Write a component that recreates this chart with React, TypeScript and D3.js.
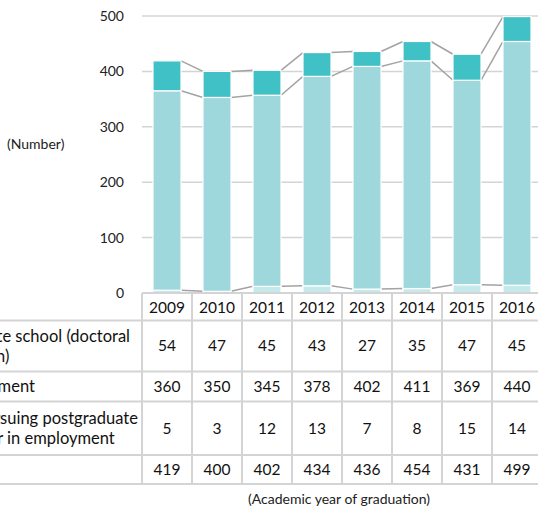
import React from "react";
import * as d3 from "d3";

const years = ["2009", "2010", "2011", "2012", "2013", "2014", "2015", "2016"];
const graduateSchool = [54, 47, 45, 43, 27, 35, 47, 45];
const employment = [360, 350, 345, 378, 402, 411, 369, 440];
const notPursuing = [5, 3, 12, 13, 7, 8, 15, 14];
const totals = [419, 400, 402, 434, 436, 454, 431, 499];
const yTicks = [0, 100, 200, 300, 400, 500];

const seriesKeys = ["notPursuing", "employment", "graduateSchool"];
const seriesColors: Record<string, string> = {
  notPursuing: "#c6e9ec",
  employment: "#9fd8dc",
  graduateSchool: "#3fc1c6",
};
const rowLabels = [
  ["Graduate school (doctoral", "research)"],
  ["Employment"],
  ["Not pursuing postgraduate", "study or in employment"],
  ["Total"],
];
const rowValues = [graduateSchool, employment, notPursuing, totals];

const W = 538;
const H = 509;
const FONT = "Lato, 'Open Sans', sans-serif";

export default function App() {
  const data = years.map((y, i) => ({
    year: y,
    notPursuing: notPursuing[i],
    employment: employment[i],
    graduateSchool: graduateSchool[i],
  }));
  const stack = d3.stack<any>().keys(seriesKeys);
  const layers = stack(data);

  const x = d3.scaleBand<string>().domain(years).range([142, 542]).paddingInner(0.44).paddingOuter(0.22);
  const col = d3.scaleBand<string>().domain(years).range([142, 542]);
  const y = d3.scaleLinear().domain([0, 500]).range([293, 16]);

  const rowEdges = [293, 320.5, 371.5, 401.5, 455, 484];
  const gridColor = "#d4d4d4";
  const lineColor = "#a3a3a3";

  return (
    <svg
      width={W}
      height={H}
      style={{ position: "absolute", left: 0, top: 0, background: "#fff" }}
      fontFamily={FONT}
    >
      {/* gridlines */}
      {yTicks.filter((t) => t > 0).map((t) => (
        <line key={t} x1={142} x2={W} y1={y(t)} y2={y(t)} stroke={gridColor} strokeWidth={1.5} />
      ))}
      {/* y tick labels */}
      {yTicks.map((t) => (
        <text key={t} x={124} y={y(t)} dy="0.35em" textAnchor="end" fontSize={14} fill="#222">
          {t}
        </text>
      ))}
      <text x={7} y={144} dy="0.35em" fontSize={14} fill="#222">(Number)</text>

      {/* series connector lines */}
      {layers.map((layer) =>
        layer.slice(0, -1).map((d, i) => {
          const next = layer[i + 1];
          return (
            <line
              key={layer.key + i}
              x1={(x(years[i]) as number) + x.bandwidth()}
              y1={y(d[1])}
              x2={x(years[i + 1]) as number}
              y2={y(next[1])}
              stroke={lineColor}
              strokeWidth={1.5}
            />
          );
        })
      )}

      {/* bars */}
      {layers.map((layer) =>
        layer.map((d, i) => (
          <rect
            key={layer.key + i}
            x={x(years[i])}
            y={y(d[1])}
            width={x.bandwidth()}
            height={y(d[0]) - y(d[1])}
            fill={seriesColors[layer.key]}
            stroke="#fff"
            strokeWidth={1.2}
          />
        ))
      )}

      {/* table grid */}
      <line x1={142} x2={W} y1={rowEdges[0]} y2={rowEdges[0]} stroke={gridColor} strokeWidth={2} />
      {rowEdges.slice(1).map((e, i) => (
        <line key={i} x1={0} x2={W} y1={e} y2={e} stroke={gridColor} strokeWidth={2} />
      ))}
      {years.map((yr) => (
        <line
          key={yr}
          x1={col(yr)}
          x2={col(yr)}
          y1={rowEdges[0]}
          y2={rowEdges[rowEdges.length - 1]}
          stroke={gridColor}
          strokeWidth={2}
        />
      ))}

      {/* header years */}
      {years.map((yr) => (
        <text
          key={yr}
          x={(col(yr) as number) + col.bandwidth() / 2}
          y={(rowEdges[0] + rowEdges[1]) / 2 + 1}
          dy="0.35em"
          textAnchor="middle"
          fontSize={15.5}
          fill="#111"
        >
          {yr}
        </text>
      ))}

      {/* row values */}
      {rowValues.map((vals, r) =>
        vals.map((v, i) => (
          <text
            key={r + "-" + i}
            x={(col(years[i]) as number) + col.bandwidth() / 2}
            y={(rowEdges[r + 1] + rowEdges[r + 2]) / 2}
            dy="0.35em"
            textAnchor="middle"
            fontSize={15.5}
            fill="#111"
          >
            {v}
          </text>
        ))
      )}

      {/* row labels (clipped at left, as in the reference) */}
      {rowLabels.map((lines, r) => {
        const cy = (rowEdges[r + 1] + rowEdges[r + 2]) / 2;
        const lh = 20.5;
        const start = cy - ((lines.length - 1) * lh) / 2;
        return lines.map((ln, k) => (
          <text key={r + "-" + k} x={-56} y={start + k * lh} dy="0.35em" fontSize={16.5} fill="#111">
            {ln}
          </text>
        ));
      })}

      <text x={248} y={499} dy="0.35em" fontSize={14} fill="#222">
        (Academic year of graduation)
      </text>
    </svg>
  );
}
